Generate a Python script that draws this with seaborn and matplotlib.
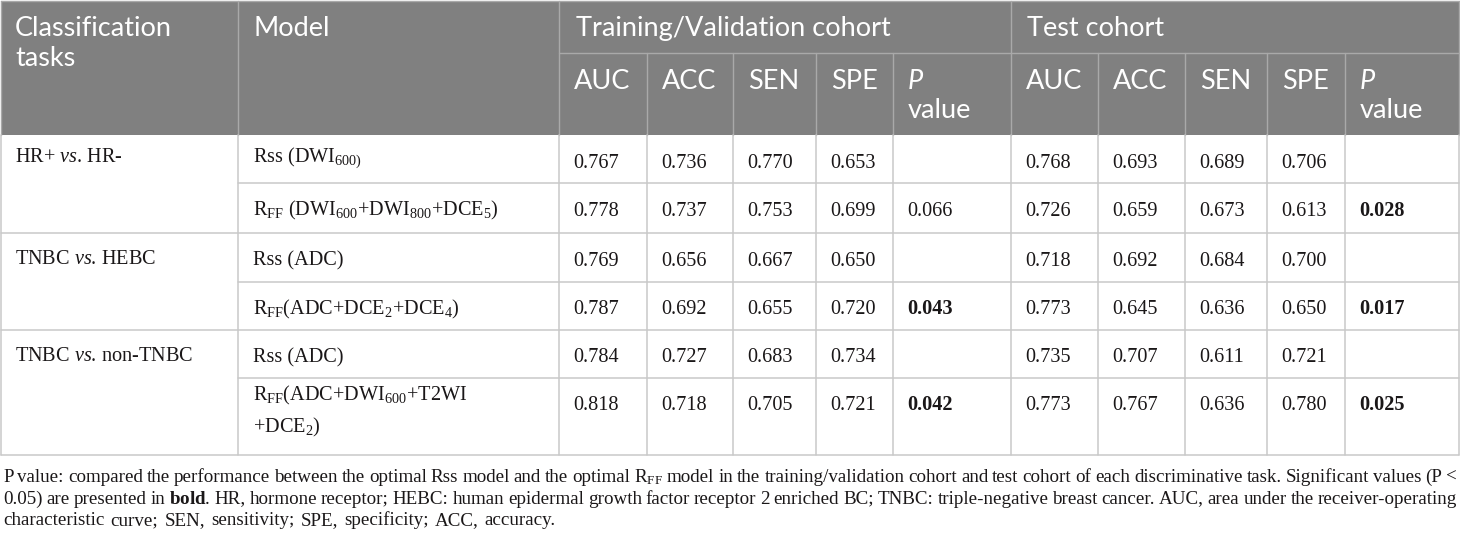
import matplotlib
matplotlib.use("Agg")
import matplotlib.pyplot as plt
from matplotlib.patches import Rectangle
import seaborn as sns
import numpy as np
import pandas as pd

# ---------------- data ----------------
task_labels = [r"HR+ $\mathit{vs}$. HR-", r"TNBC $\mathit{vs}$. HEBC", r"TNBC $\mathit{vs}$. non-TNBC"]
model_labels = [
    [r"Rss (DWI$_{\mathrm{600)}}$"],
    [r"R$_{\mathrm{FF}}$ (DWI$_{\mathrm{600}}$+DWI$_{\mathrm{800}}$+DCE$_{\mathrm{5}}$)"],
    ["Rss (ADC)"],
    [r"R$_{\mathrm{FF}}$(ADC+DCE$_{\mathrm{2}}$+DCE$_{\mathrm{4}}$)"],
    ["Rss (ADC)"],
    [r"R$_{\mathrm{FF}}$(ADC+DWI$_{\mathrm{600}}$+T2WI", r"+DCE$_{\mathrm{2}}$)"],
]
train_auc = [0.767, 0.778, 0.769, 0.787, 0.784, 0.818]
train_acc = [0.736, 0.737, 0.656, 0.692, 0.727, 0.718]
train_sen = [0.770, 0.753, 0.667, 0.655, 0.683, 0.705]
train_spe = [0.653, 0.699, 0.650, 0.720, 0.734, 0.721]
train_p = [np.nan, 0.066, np.nan, 0.043, np.nan, 0.042]
test_auc = [0.768, 0.726, 0.718, 0.773, 0.735, 0.773]
test_acc = [0.693, 0.659, 0.692, 0.645, 0.707, 0.767]
test_sen = [0.689, 0.673, 0.684, 0.636, 0.611, 0.636]
test_spe = [0.706, 0.613, 0.700, 0.650, 0.721, 0.780]
test_p = [np.nan, 0.028, np.nan, 0.017, np.nan, 0.025]

header_cols = ["Classification\ntasks", "Model"]
group_labels = ["Training/Validation cohort", "Test cohort"]
metric_labels = ["AUC", "ACC", "SEN", "SPE", "P value"]

footnote_lines = [
    "P value: compared the performance between the optimal Rss model and the optimal R$_{\\mathrm{FF}}$ model in the "
    "training/validation cohort and test cohort of each discriminative task. Significant values (P <",
    "0.05) are presented in $\\mathbf{bold}$. HR, hormone receptor; HEBC: human epidermal growth factor receptor 2 "
    "enriched BC; TNBC: triple-negative breast cancer. AUC, area under the receiver-operating",
    "characteristic curve; SEN, sensitivity; SPE, specificity; ACC, accuracy.",
]

df = pd.DataFrame({
    "tr_auc": train_auc, "tr_acc": train_acc, "tr_sen": train_sen, "tr_spe": train_spe, "tr_p": train_p,
    "te_auc": test_auc, "te_acc": test_acc, "te_sen": test_sen, "te_spe": test_spe, "te_p": test_p,
})

# ---------------- style ----------------
sns.set_theme(style="white")
plt.rcParams["font.family"] = ["Liberation Serif", "DejaVu Serif"]
plt.rcParams["mathtext.fontset"] = "custom"
plt.rcParams["mathtext.rm"] = "Liberation Serif"
plt.rcParams["mathtext.it"] = "Liberation Serif:italic"
plt.rcParams["mathtext.bf"] = "Liberation Serif:bold"

W, H = 1460, 536
fig = plt.figure(figsize=(W / 100, H / 100), dpi=100)
ax = fig.add_axes([0, 0, 1, 1])
ax.set_xlim(0, W)
ax.set_ylim(H, 0)
ax.axis("off")
renderer = fig.canvas.get_renderer()

col_x = [1, 238, 559, 647, 733, 816, 893, 1011, 1098, 1185, 1267, 1345, 1459]
row_y = [135, 183, 233, 282, 330, 378, 455]
hdr_top, hdr_mid, hdr_bot = 1, 53, 135

HDR_BG = "#808080"
HDR_LINE = "#a9a9a9"
BODY_LINE = "#c9c9c9"
TXT = "#1a1718"
SANS = ["Lato", "DejaVu Sans"]

# header background
ax.add_patch(Rectangle((col_x[0], hdr_top), col_x[-1] - col_x[0], hdr_bot - hdr_top,
                       facecolor=HDR_BG, edgecolor="none", zorder=0))

# header lines
for x in [col_x[0], col_x[1], col_x[2], col_x[7], col_x[-1]]:
    ax.plot([x, x], [hdr_top, hdr_bot], color=HDR_LINE, lw=1.0, zorder=1)
for x in col_x[3:7] + col_x[8:12]:
    ax.plot([x, x], [hdr_mid, hdr_bot], color=HDR_LINE, lw=1.0, zorder=1)
ax.plot([col_x[2], col_x[-1]], [hdr_mid, hdr_mid], color=HDR_LINE, lw=1.0, zorder=1)
ax.plot([col_x[0], col_x[-1]], [hdr_top, hdr_top], color=HDR_LINE, lw=1.0, zorder=1)

# body lines
for x in col_x:
    ax.plot([x, x], [hdr_bot, row_y[-1]], color=BODY_LINE, lw=1.1, zorder=1)
for i, y in enumerate(row_y[1:], start=1):
    x0 = col_x[0] if i % 2 == 0 else col_x[1]
    ax.plot([x0, col_x[-1]], [y, y], color=BODY_LINE, lw=1.1, zorder=1)


def text_width(s, size, **kw):
    t = ax.text(0, 0, s, fontsize=size, **kw)
    w = t.get_window_extent(renderer).width
    t.remove()
    return w

# fit header font size so group label has the reference width
hsize0 = 16
hw = text_width(group_labels[0], hsize0, family=SANS)
hsize = hsize0 * 317.0 / hw

hdr_kw = dict(family=SANS, fontsize=hsize, color="white", va="baseline", ha="left", zorder=3)
l1, l2 = header_cols[0].split("\n")
ax.text(15, 36, l1, **hdr_kw)
ax.text(15, 66, l2, **hdr_kw)
ax.text(col_x[1] + 15, 36, header_cols[1], **hdr_kw)
ax.text(col_x[2] + 17, 36, group_labels[0], **hdr_kw)
ax.text(col_x[7] + 16, 36, group_labels[1], **hdr_kw)
for g in range(2):
    base = 2 + 5 * g
    for j, lab in enumerate(metric_labels):
        x = col_x[base + j] + 15
        if lab == "P value":
            ax.text(x, 89, "P", style="italic", **hdr_kw)
            ax.text(x, 118, "value", **hdr_kw)
        else:
            ax.text(x, 89, lab, **hdr_kw)

# body
BSIZE = 14.6
body_kw = dict(fontsize=BSIZE, color=TXT, va="baseline", ha="left", zorder=3)
for k, lab in enumerate(task_labels):
    top = row_y[2 * k]
    off = 27 if k == 0 else 31
    ax.text(col_x[0] + 14, top + off, lab, **body_kw)

for r, lines in enumerate(model_labels):
    top = row_y[r]
    if len(lines) == 1:
        off = 27 if r == 0 else 32
        ax.text(col_x[1] + 15, top + off, lines[0], **body_kw)
    else:
        ax.text(col_x[1] + 15, top + 22, lines[0], **body_kw)
        ax.text(col_x[1] + 15, top + 54, lines[1], **body_kw)

cols = list(df.columns)
for r in range(len(df)):
    top = row_y[r]
    for c, name in enumerate(cols):
        v = df.iloc[r][name]
        if pd.isna(v):
            continue
        bold = name.endswith("_p") and v < 0.05
        ax.text(col_x[2 + c] + 14, top + 32.5, f"{v:.3f}",
                fontweight="bold" if bold else "normal", **body_kw)

# footnote (justified)
FX0, FX1 = 3, 1457
f_base = [482, 503.5, 525]

def measure_words(words, size):
    return [text_width(w, size) for w in words]

fsize0 = 14
words1 = footnote_lines[0].split(" ")
ws1 = measure_words(words1, fsize0)
space_px = 0.2 * fsize0 * 100 / 72
scale = (FX1 - FX0) / (sum(ws1) + space_px * (len(words1) - 1))
fsize = fsize0 * scale

def draw_line(words, y, x0, x1, size, justify=True):
    ws = measure_words(words, size)
    if justify:
        gap = (x1 - x0 - sum(ws)) / (len(words) - 1)
    else:
        gap = 0.32 * size * 100 / 72
    x = x0
    for w, wd in zip(words, ws):
        ax.text(x, y, w, fontsize=size, color=TXT, va="baseline", ha="left", zorder=3)
        x += wd + gap

draw_line(footnote_lines[0].split(" "), f_base[0], FX0, FX1, fsize)
draw_line(footnote_lines[1].split(" "), f_base[1], FX0, FX1, fsize)
draw_line(footnote_lines[2].split(" "), f_base[2], FX0, FX1, fsize, justify=False)

fig.savefig("out.png", dpi=100, facecolor="white")
